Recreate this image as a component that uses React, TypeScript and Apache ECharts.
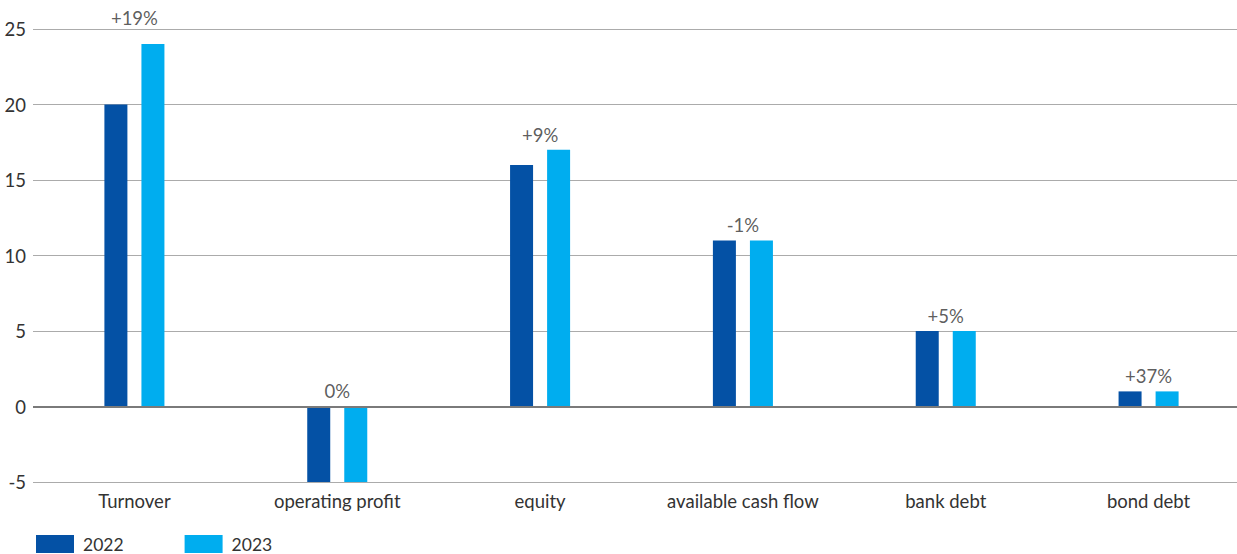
import React, { useEffect, useRef } from "react";
import * as echarts from "echarts";

const categories = ["Turnover", "operating profit", "equity", "available cash flow", "bank debt", "bond debt"];
const values2022 = [20, -5, 16, 11, 5, 1];
const values2023 = [24, -5, 17, 11, 5, 1];
const changeLabels = ["+19%", "0%", "+9%", "-1%", "+5%", "+37%"];
const labelLevels = [25.75, 1, 18, 12, 6, 2];
const yTicks = { min: -5, max: 25, interval: 5 };

const FONT = "Lato, 'Open Sans', sans-serif";
const FS = 18.5;

export default function App() {
  const ref = useRef<HTMLDivElement>(null);
  useEffect(() => {
    document.body.style.margin = "0";
    document.body.style.overflow = "hidden";
    const chart = echarts.init(ref.current!, null, { renderer: "svg" });
    chart.setOption({
      animation: false,
      textStyle: { fontFamily: FONT, color: "#333" },
      grid: { left: 33, right: 0, top: 29, bottom: 72, containLabel: false },
      legend: {
        left: 36,
        top: 535,
        padding: 0,
        itemWidth: 38,
        itemHeight: 18,
        itemGap: 61,
        icon: "rect",
        data: ["2022", "2023"],
        textStyle: { fontSize: 17.5, lineHeight: 16, color: "#333", fontFamily: FONT, padding: [0, 0, 0, 4] },
      },
      xAxis: {
        type: "category",
        data: categories,
        axisLine: { show: false },
        axisTick: { show: false },
        axisLabel: { fontSize: FS, color: "#333", margin: 9, fontFamily: FONT },
      },
      yAxis: {
        type: "value",
        min: yTicks.min,
        max: yTicks.max,
        interval: yTicks.interval,
        axisLine: { show: false },
        axisTick: { show: false },
        axisLabel: { fontSize: FS, color: "#333", margin: 7, fontFamily: FONT },
        splitLine: { lineStyle: { color: "#ababab", width: 1 } },
      },
      series: [
        {
          name: "2022",
          type: "bar",
          data: values2022,
          barWidth: 23,
          barGap: "61%",
          itemStyle: { color: "#0451a5" },
          markLine: {
            silent: true,
            symbol: "none",
            label: { show: false },
            lineStyle: { color: "#7a7a7a", width: 2, type: "solid" },
            data: [{ yAxis: 0 }],
            z: 10,
          },
        },
        {
          name: "2023",
          type: "bar",
          data: values2023,
          barWidth: 23,
          itemStyle: { color: "#00adef" },
        },
        {
          name: "change",
          type: "scatter",
          clip: false,
          data: labelLevels.map((v, i) => ({ value: v, label: { formatter: changeLabels[i] } })),
          symbolSize: 1,
          itemStyle: { color: "rgba(0,0,0,0)" },
          silent: true,
          label: {
            show: true,
            position: "inside",
            fontSize: FS,
            color: "#333",
            fontFamily: FONT,
          },
        },
      ],
    });
    return () => chart.dispose();
  }, []);
  return <div ref={ref} style={{ width: 1250, height: 554 }} />;
}
